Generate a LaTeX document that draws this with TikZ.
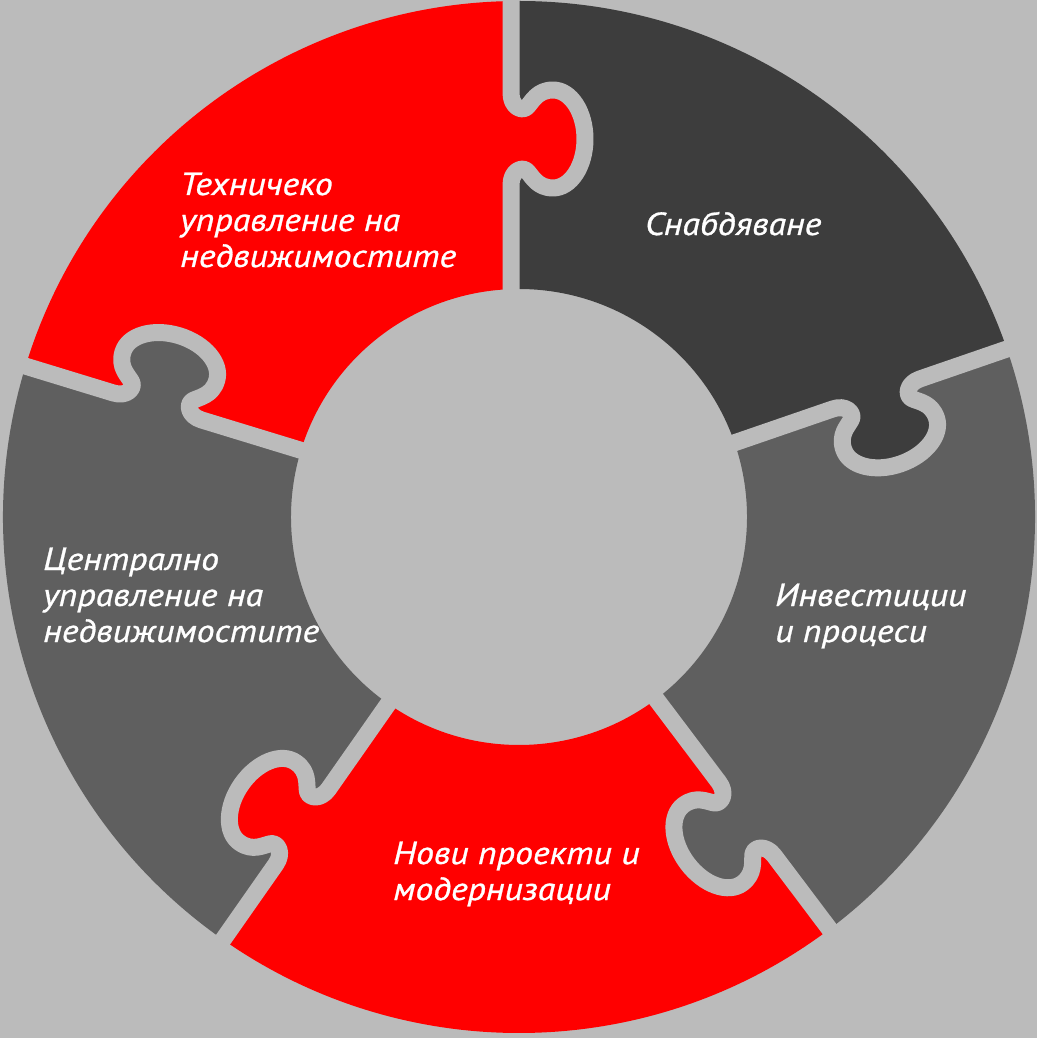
\documentclass[tikz,border=0pt]{standalone}
\usepackage{fontspec}
\setmainfont{PT Sans}[FakeStretch=1.12, FakeBold=0.9]
\definecolor{bgGray}{RGB}{187,187,187}
\definecolor{darkGray}{RGB}{61,61,61}
\definecolor{midGray}{RGB}{95,95,95}
\definecolor{puzzleRed}{RGB}{255,0,0}
\newcommand{\knobline}{(0,-46) .. controls (0,-32) and (11,-27) .. (16,-32)
  .. controls (21,-37) and (26,-49) .. (42,-49)
  arc[start angle=-90,end angle=90,x radius=32,y radius=49]
  .. controls (26,49) and (21,37) .. (16,32)
  .. controls (11,27) and (0,32) .. (0,46)}
\tikzset{
  gap/.style={draw=bgGray, line width=17, line join=round},
  txt/.style={text=white, font=\fontsize{32}{36}\selectfont\itshape, align=left, inner sep=0pt, anchor=base west}
}

\begin{document}
\begin{tikzpicture}[x=1pt,y=1pt]
\useasboundingbox[fill=bgGray] (-519,-521) rectangle (518,517);
% ring pieces
\foreach \a/\b/\col in {90/163/puzzleRed,19/90/darkGray,-53/19/midGray,-125/-53/puzzleRed,163/235/midGray}
  \fill[\col] (\a:228) arc[start angle=\a, end angle=\b, radius=228]
    -- (\b:516) arc[start angle=\b, end angle=\a, radius=516] -- cycle;
% knobs, then the gaps round them
\foreach \a/\dx/\col in {90/-8/puzzleRed,19/0/darkGray,-53/0/midGray,-125/0/puzzleRed,163/0/midGray}
  \filldraw[\col, line width=2, rotate=\a-90, shift={(\dx,378)}] \knobline -- cycle;
\foreach \a/\dx in {90/-8,19/0,-53/0,-125/0,163/0}
  \draw[gap, rotate=\a-90, shift={(\dx,378)}] (0,-160) -- \knobline -- (0,150);
% texts
\node[txt] (tech) at (-339,250) {Техничеко\\управление на\\недвижимостите};
\node[txt] (supply) at (126,282) {Снабдяване};
\node[txt] (invest) at (256,-125) {Инвестиции\\и процеси};
\node[txt] (projects) at (-126,-383) {Нови проекти и\\модернизации};
\node[txt] (central) at (-476,-125) {Централно\\управление на\\недвижимостите};
\end{tikzpicture}
\end{document}
